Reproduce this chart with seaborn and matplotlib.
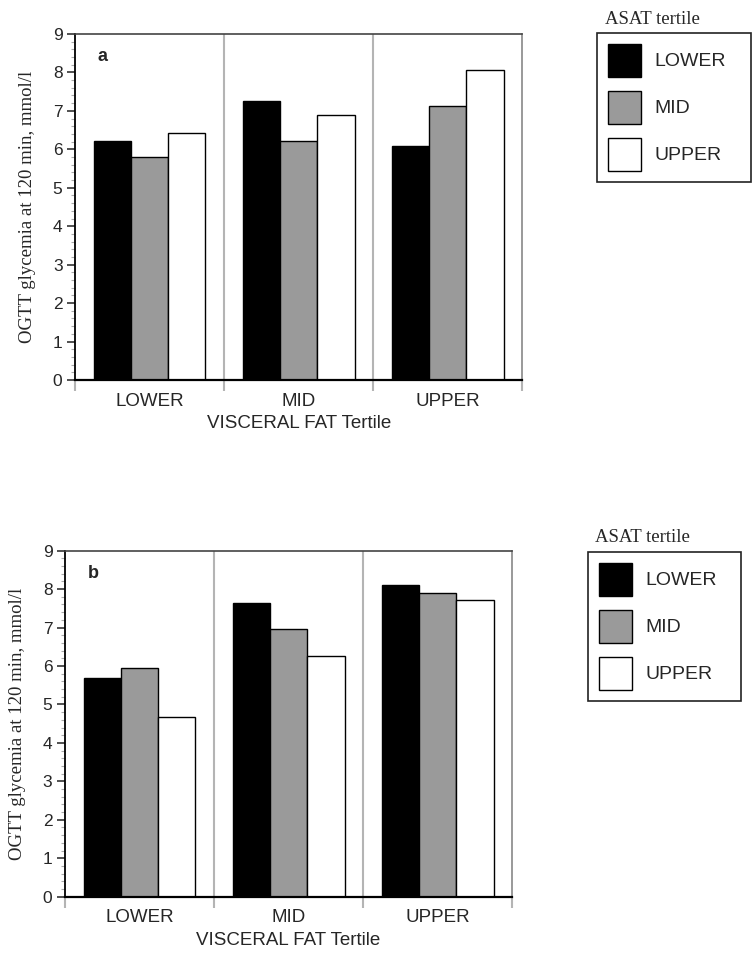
import pandas as pd
import seaborn as sns
import matplotlib.pyplot as plt
from matplotlib.ticker import MultipleLocator

# visceral fat tertiles on the x axis, ASAT tertiles as hue
visceral = ['LOWER', 'MID', 'UPPER']
asat = ['LOWER', 'MID', 'UPPER']

# panel a - OGTT glycemia at 120 min (mmol/l), one list per ASAT tertile
a_lower = [6.22, 7.26, 6.08]
a_mid = [5.80, 6.21, 7.13]
a_upper = [6.42, 6.89, 8.05]

# panel b
b_lower = [5.70, 7.65, 8.10]
b_mid = [5.96, 6.95, 7.91]
b_upper = [4.67, 6.26, 7.71]

colors = ['#000000', '#9a9a9a', '#ffffff']


def to_long(lower, mid, upper):
    rows = []
    for grp, vals in zip(asat, [lower, mid, upper]):
        for v, val in zip(visceral, vals):
            rows.append({'visceral': v, 'asat': grp, 'value': val})
    return pd.DataFrame(rows)


sns.set_style('white')
plt.rcParams['font.family'] = ['Liberation Sans', 'DejaVu Sans']

W, H = 753, 964
fig = plt.figure(figsize=(W / 100, H / 100), dpi=100)

# (letter, data, axes rect, legend box in px (x0, y_top, w, h), title pos px)
panels = [
    ('a', to_long(a_lower, a_mid, a_upper), [0.0996, 0.6058, 0.594, 0.359],
     (597, 33, 154, 145), (605, 20)),
    ('b', to_long(b_lower, b_mid, b_upper), [0.0863, 0.0698, 0.594, 0.359],
     (588, 552, 153, 145), (595, 538)),
]

for letter, df, rect, lbox, tpos in panels:
    ax = fig.add_axes(rect)
    sns.barplot(data=df, x='visceral', y='value', hue='asat',
                order=visceral, hue_order=asat, palette=colors,
                width=0.75, edgecolor='black', linewidth=1.0,
                saturation=1, errorbar=None, ax=ax)

    # gray separators between the visceral fat groups
    for xb in [0.5, 1.5]:
        ax.axvline(xb, color='#b4b4b4', lw=1.5, zorder=0)

    ax.set_xlim(-0.5, 2.5)
    ax.set_ylim(0, 9)
    ax.yaxis.set_major_locator(MultipleLocator(1))
    ax.yaxis.set_minor_locator(MultipleLocator(0.2))
    ax.set_xticks([-0.5, 0.5, 1.5, 2.5], minor=True)
    ax.tick_params(axis='x', which='major', length=0, pad=9, labelsize=13.5)
    ax.tick_params(axis='x', which='minor', length=8, width=1.5,
                   color='#b4b4b4', bottom=True)
    ax.tick_params(axis='y', which='major', length=6, width=1.2,
                   color='#333333', labelsize=12.5, pad=3, left=True)
    ax.tick_params(axis='y', which='minor', length=3, width=0.8,
                   color='#aaaaaa', left=True)

    ax.set_xlabel('VISCERAL FAT Tertile', fontsize=13.5, labelpad=4)
    ax.set_ylabel('OGTT glycemia at 120 min, mmol/l', fontsize=13.5,
                  family='Liberation Serif', labelpad=12)

    ax.spines['left'].set_color('black')
    ax.spines['left'].set_linewidth(1.3)
    ax.spines['bottom'].set_color('black')
    ax.spines['bottom'].set_linewidth(1.6)
    ax.spines['top'].set_color('#444444')
    ax.spines['top'].set_linewidth(1.2)
    ax.spines['right'].set_color('#888888')
    ax.spines['right'].set_linewidth(1.2)

    ax.text(0.05, 0.935, letter, transform=ax.transAxes, fontsize=13,
            fontweight='bold', va='center', ha='left')

    handles, labels = ax.get_legend_handles_labels()
    ax.get_legend().remove()
    x0, ytop, bw, bh = lbox
    anchor = (x0 / W, 1 - (ytop + bh) / H, bw / W, bh / H)
    leg = fig.legend(handles, labels, loc='upper left', mode='expand',
                     bbox_to_anchor=anchor, frameon=True, fancybox=False,
                     edgecolor='#222222', fontsize=14, handlelength=1.7,
                     handleheight=2.24, labelspacing=0.72, handletextpad=0.7,
                     borderpad=0.55, borderaxespad=0)
    leg.get_frame().set_linewidth(1.2)
    leg.get_frame().set_alpha(1)
    fig.text(tpos[0] / W, 1 - tpos[1] / H, 'ASAT tertile', fontsize=13.5,
             family='Liberation Serif', ha='left', va='center')

fig.savefig('out.png', dpi=100)
